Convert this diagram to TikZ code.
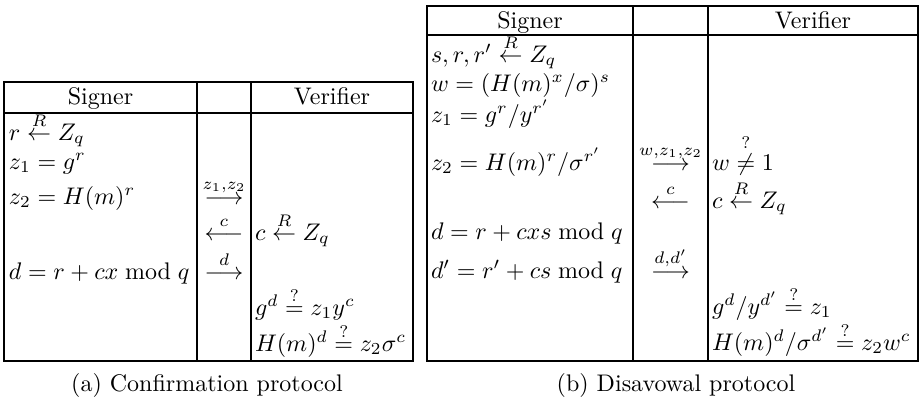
\documentclass[tikz,border=0pt]{standalone}
\begin{document}
\begin{tikzpicture}[x=0.5pt,y=-0.5pt,
  rule/.style={line width=1pt},
  tx/.style={anchor=base west,inner sep=0pt,outer sep=0pt,scale=1.2},
  mid/.style={anchor=base,inner sep=0pt,outer sep=0pt,scale=1.2},
  captxt/.style={anchor=base,inner sep=0pt,outer sep=0pt,scale=1.2}]
\useasboundingbox (0,0) rectangle (922,404);
% ---------- table (a) ----------
\draw[rule] (4,82) rectangle (413,361);
\draw[rule] (4,113) -- (413,113);
\draw[rule] (197,82) -- (197,361);
\draw[rule] (251,82) -- (251,361);
\node[mid] (ha1) at (100.5,104) {Signer};
\node[mid] (ha3) at (332,104) {Verifier};
\node[tx] (a11) at (9,140) {$r \stackrel{R}{\leftarrow} Z_q$};
\node[tx] (a12) at (9,169) {$z_1 = g^r$};
\node[tx] (a13) at (9,204) {$z_2 = H(m)^r$};
\node[tx] (a15) at (9,279) {$d = r + cx \bmod q$};
\node[mid] (a23) at (224,204) {$\stackrel{z_1,z_2}{\longrightarrow}$};
\node[mid] (a24) at (224,240) {$\stackrel{c}{\longleftarrow}$};
\node[mid] (a25) at (224,279) {$\stackrel{d}{\longrightarrow}$};
\node[tx] (a34) at (255,240) {$c \stackrel{R}{\leftarrow} Z_q$};
\node[tx] (a36) at (255,315) {$g^d \stackrel{?}{=} z_1 y^c$};
\node[tx] (a37) at (255,351) {$H(m)^d \stackrel{?}{=} z_2\sigma^c$};
\node[captxt] (capa) at (207,391) {(a) Confirmation protocol};
% ---------- table (b) ----------
\draw[rule] (427,6) rectangle (918,361);
\draw[rule] (427,35) -- (918,35);
\draw[rule] (633,6) -- (633,361);
\draw[rule] (708,6) -- (708,361);
\node[mid] (hb1) at (530,28) {Signer};
\node[mid] (hb3) at (813,28) {Verifier};
\node[tx] (b11) at (431,62) {$s, r, r' \stackrel{R}{\leftarrow} Z_q$};
\node[tx] (b12) at (431,91) {$w = (H(m)^x/\sigma)^s$};
\node[tx] (b13) at (431,122) {$z_1 = g^r/y^{r'}$};
\node[tx] (b14) at (431,170) {$z_2 = H(m)^r/\sigma^{r'}$};
\node[tx] (b16) at (431,239) {$d = r + cxs \bmod q$};
\node[tx] (b17) at (431,278) {$d' = r' + cs \bmod q$};
\node[mid] (b24) at (670.5,170) {$\stackrel{w,z_1,z_2}{\longrightarrow}$};
\node[mid] (b25) at (670.5,208) {$\stackrel{c}{\longleftarrow}$};
\node[mid] (b27) at (670.5,278) {$\stackrel{d,d'}{\longrightarrow}$};
\node[tx] (b34) at (712,170) {$w \stackrel{?}{\neq} 1$};
\node[tx] (b35) at (712,208) {$c \stackrel{R}{\leftarrow} Z_q$};
\node[tx] (b38) at (712,314) {$g^d/y^{d'} \stackrel{?}{=} z_1$};
\node[tx] (b39) at (712,350) {$H(m)^d/\sigma^{d'} \stackrel{?}{=} z_2 w^c$};
\node[captxt] (capb) at (676,391) {(b) Disavowal protocol};
\end{tikzpicture}
\end{document}
